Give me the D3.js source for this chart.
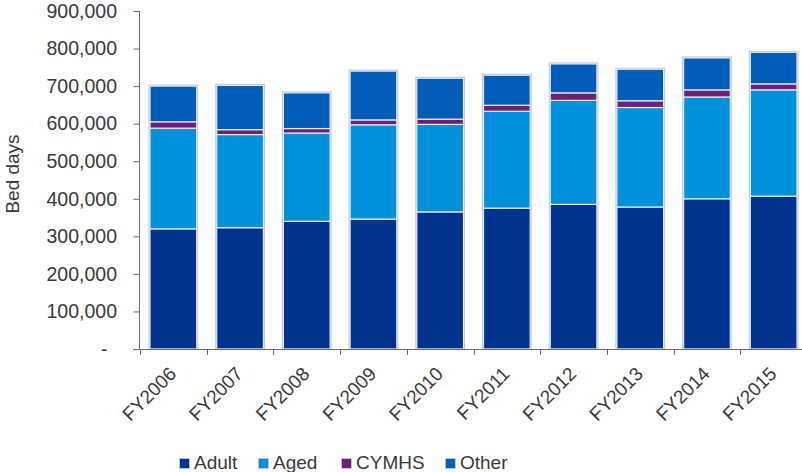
<!DOCTYPE html>
<html>
<head>
<meta charset="utf-8">
<script src="https://cdn.jsdelivr.net/npm/d3@7"></script>
<style>
  html, body { margin: 0; padding: 0; background: #fff; }
  svg { display: block; font-family: "Liberation Sans", Arial, sans-serif; }
</style>
</head>
<body>
<svg id="chart" width="802" height="472"></svg>
<script>
const categories = ["FY2006","FY2007","FY2008","FY2009","FY2010","FY2011","FY2012","FY2013","FY2014","FY2015"];
const seriesNames = ["Adult","Aged","CYMHS","Other"];
const adult = [320000,323000,340000,346000,365000,375000,385000,378000,400000,407000];
const aged  = [268000,248000,235000,251000,233000,258000,277000,265000,271000,283000];
const cymhs = [17000,13000,12000,13000,14000,16000,20000,18000,19000,16000];
const other = [95000,118000,95000,130000,109000,80000,77000,84000,85000,84000];
const yTicks = [0,100000,200000,300000,400000,500000,600000,700000,800000,900000];
const colors = ["#00338D","#0091DA","#6D2077","#005EB8"];

const rows = categories.map((c,i)=>({cat:c, Adult:adult[i], Aged:aged[i], CYMHS:cymhs[i], Other:other[i]}));
const stacked = d3.stack().keys(seriesNames)(rows);

const svg = d3.select("#chart");
const fs = 19;
const textCol = "#3a3a3a";
const axisCol = "#6b6b6b";

const x = d3.scaleBand().domain(categories).range([140, 807]).paddingInner(0.3).paddingOuter(0.15);
const y = d3.scaleLinear().domain([0, 900000]).range([349, 11]);
const color = d3.scaleOrdinal().domain(seriesNames).range(colors);

// bars
const g = svg.append("g");
stacked.forEach(layer => {
  g.selectAll(null).data(layer).enter().append("rect")
    .attr("x", d => x(d.data.cat))
    .attr("width", x.bandwidth())
    .attr("y", d => y(d[1]))
    .attr("height", d => y(d[0]) - y(d[1]))
    .attr("fill", color(layer.key))
    .attr("stroke", "#e4ecf6")
    .attr("stroke-width", 1.2);
});
// outer outline of each bar
g.selectAll(null).data(stacked[stacked.length-1]).enter().append("rect")
  .attr("x", d => x(d.data.cat) - 1)
  .attr("width", x.bandwidth() + 2)
  .attr("y", d => y(d[1]) - 1)
  .attr("height", d => y(0) - y(d[1]) + 1)
  .attr("fill", "none")
  .attr("stroke", "#c2c6cc")
  .attr("stroke-width", 1);

// y axis
const yAxis = d3.axisLeft(y).tickValues(yTicks).tickSize(6).tickPadding(17)
  .tickFormat(d => d === 0 ? "-" : d3.format(",")(d));
const ya = svg.append("g").attr("transform", "translate(139.5,0)").call(yAxis);
ya.select(".domain").attr("stroke", axisCol).attr("d", `M0,${y(900000)}V${y(0)}`);
ya.selectAll(".tick line").attr("stroke", axisCol);
ya.selectAll(".tick text").attr("fill", textCol).attr("font-size", 19.5)
  .attr("font-family", "Liberation Sans, Arial, sans-serif")
  .attr("x", d => d === 0 ? -32 : -22.5);

// x axis
const step = x.step();
const off = (step - x.bandwidth()) / 2;
const xa = svg.append("g");
xa.append("line").attr("x1", 133).attr("x2", 807).attr("y1", y(0)+0.5).attr("y2", y(0)+0.5)
  .attr("stroke", axisCol);
xa.selectAll(null).data(categories).enter().append("line")
  .attr("x1", d => Math.round(x(d) - off) + 0.5).attr("x2", d => Math.round(x(d) - off) + 0.5)
  .attr("y1", y(0)).attr("y2", y(0) + 6)
  .attr("stroke", axisCol);
xa.selectAll(null).data(categories).enter().append("text")
  .attr("transform", d => `translate(${x(d) + x.bandwidth()/2 + 4},${y(0) + 26}) rotate(-45)`)
  .attr("text-anchor", "end")
  .attr("font-size", fs)
  .attr("fill", textCol)
  .text(d => d);

// y title
svg.append("text")
  .attr("transform", "translate(19,174) rotate(-90)")
  .attr("text-anchor", "middle")
  .attr("font-size", fs)
  .attr("fill", textCol)
  .text("Bed days");

// legend
const legendX = [179, 258, 341, 445];
const lg = svg.append("g");
const items = lg.selectAll(null).data(seriesNames).enter().append("g")
  .attr("transform", (d,i) => `translate(${legendX[i]},458)`);
items.append("rect").attr("x", 0.5).attr("y", 0.5).attr("width", 10).attr("height", 10)
  .attr("fill", d => color(d)).attr("stroke", "#c2c6cc").attr("stroke-width", 1);
items.append("text").attr("x", 15).attr("y", 10.8)
  .attr("font-size", fs).attr("fill", textCol).text(d => d);
</script>
</body>
</html>
